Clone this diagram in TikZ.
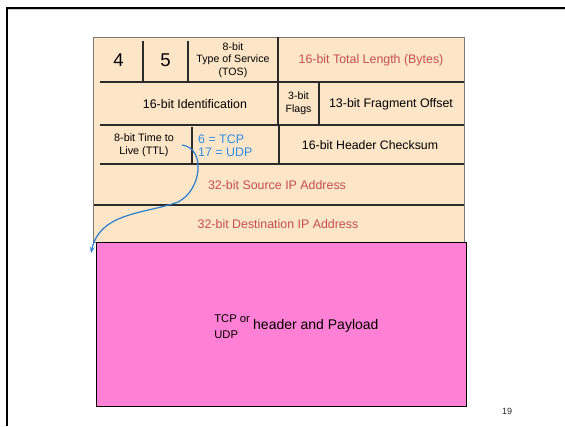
\documentclass[tikz,border=0pt]{standalone}
\usepackage{fontspec}
\setmainfont{Liberation Sans}
\usetikzlibrary{arrows.meta}
\definecolor{hdrfill}{HTML}{FDE5C8}
\definecolor{hdrred}{HTML}{C4504D}
\definecolor{hdrblue}{HTML}{2E8DEB}
\definecolor{payfill}{HTML}{FF80D4}
\definecolor{cellline}{HTML}{2B2B2B}
\definecolor{outline}{HTML}{7A7A7A}
\newcommand{\fsz}[2]{\fontsize{#1bp}{#2bp}\selectfont}
\tikzset{
  cellbox/.style={fill=hdrfill, draw=outline, line width=1bp, inner sep=0},
  paybox/.style={fill=payfill, draw=black, line width=0.9bp, inner sep=0},
  divider/.style={draw=cellline, line width=1.3bp},
  celltext/.style={inner sep=0, align=center, text=black},
  redtext/.style={inner sep=0, align=center, text=hdrred},
  bluetext/.style={inner sep=0, align=left, text=hdrblue},
  link/.style={draw=hdrblue!90!black, line width=1.2bp, -{Stealth[length=6bp,width=4.5bp]}},
  slideline/.style={draw=black, line width=2bp},
}
\begin{document}
\begin{tikzpicture}[x=1bp, y=-1bp]
\useasboundingbox (0,0) rectangle (565,426);
% slide frame
\draw[draw=black!20, line width=1bp] (7,9.5) -- (565,9.5);
\draw[slideline] (6,7.5) -- (565,7.5);
\draw[slideline] (7,6.5) -- (7,426);

% header and payload boxes
\node[cellbox, minimum width=370bp, minimum height=205bp] (hdr) at (279,139.5) {};
\node[paybox, minimum width=370bp, minimum height=164bp] (pay) at (281,324) {};

% dividers
\draw[divider] (100,82) -- (464,82);
\draw[divider] (100,125) -- (464,125);
\draw[divider] (100,164) -- (464,164);
\draw[divider] (94,205) -- (464,205);
\draw[divider] (143,41) -- (143,81);
\draw[divider] (188,41) -- (188,81);
\draw[divider] (278,37) -- (278,125);
\draw[divider] (319,83) -- (319,124);
\draw[divider] (192,127) -- (192,164);
\draw[divider] (279,125) -- (279,164);

% row 1
\node[celltext, font=\fsz{18.5}{22}] (ver) at (118.5,60) {4};
\node[celltext, font=\fsz{18.5}{22}] (ihl) at (165.5,60) {5};
\node[celltext, font=\fsz{10.6}{12.5}] (tos) at (233,60)
  {8-bit\\Type of Service\\(TOS)};
\node[redtext, font=\fsz{12.4}{15}] (len) at (371,60) {16-bit Total Length (Bytes)};
% row 2
\node[celltext, font=\fsz{12.4}{15}] (ident) at (195,104) {16-bit Identification};
\node[celltext, font=\fsz{10.6}{13.3}] (flags) at (298.5,103.5) {3-bit\\Flags};
\node[celltext, font=\fsz{12.4}{15}] (frag) at (391,104) {13-bit Fragment Offset};
% row 3
\node[celltext, font=\fsz{10.8}{13}] (ttl) at (144,145) {8-bit Time to\\Live (TTL)};
\node[bluetext, font=\fsz{12.4}{13}, anchor=west] (proto) at (198,146) {6 = TCP\\17 = UDP};
\node[celltext, font=\fsz{12.3}{15}] (cksum) at (370,145) {16-bit Header Checksum};
% rows 4 and 5
\node[redtext, font=\fsz{12.4}{15}] (src) at (277,185) {32-bit Source IP Address};
\node[redtext, font=\fsz{12.4}{15}] (dst) at (278,224) {32-bit Destination IP Address};
% payload text
\node[celltext, font=\fsz{11.2}{16}, align=left, anchor=east] (tcpudp) at (250,327) {TCP or\\UDP};
\node[celltext, font=\fsz{14}{16}, anchor=west] (payload) at (253,326) {header and Payload};
% slide number
\node[celltext, font=\fsz{9}{10}, text=black!85] (pagenum) at (507,411) {19};

% protocol link arrow
\coordinate (cs) at (182,145);
\coordinate (ce) at (91,253);
\draw[link] (cs) .. controls (206,148) and (202,190) .. (178,202)
               .. controls (145,214) and (100,212) .. (ce);
\end{tikzpicture}
\end{document}
